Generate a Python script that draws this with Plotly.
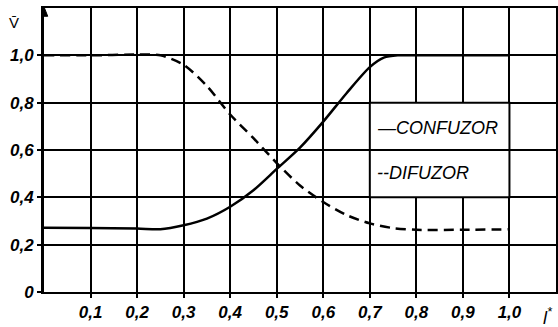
import plotly.graph_objects as go

# ---- data ----
x_confuzor = [0.0, 0.1, 0.2, 0.25, 0.3, 0.35, 0.4, 0.45, 0.5, 0.55, 0.6, 0.65, 0.7, 0.73, 0.76, 0.8, 0.9, 1.0]
v_confuzor = [0.272, 0.270, 0.268, 0.265, 0.282, 0.31, 0.36, 0.43, 0.52, 0.61, 0.72, 0.84, 0.95, 0.99, 1.0, 1.0, 1.0, 1.0]

x_difuzor = [0.0, 0.1, 0.2, 0.25, 0.3, 0.35, 0.4, 0.45, 0.5, 0.55, 0.6, 0.65, 0.7, 0.75, 0.8, 0.9, 1.0]
v_difuzor = [1.0, 1.0, 1.003, 1.0, 0.96, 0.87, 0.75, 0.65, 0.545, 0.45, 0.38, 0.325, 0.29, 0.27, 0.263, 0.263, 0.265]

x_tick_vals = [0.1, 0.2, 0.3, 0.4, 0.5, 0.6, 0.7, 0.8, 0.9, 1.0]
x_tick_text = ["0,1", "0,2", "0,3", "0,4", "0,5", "0,6", "0,7", "0,8", "0,9", "1,0"]
y_tick_vals = [0.0, 0.2, 0.4, 0.6, 0.8, 1.0]
y_tick_text = ["0", "0,2", "0,4", "0,6", "0,8", "1,0"]

series_names = ["CONFUZOR", "DIFUZOR"]
legend_labels = ["\u2014CONFUZOR", "--DIFUZOR"]
x_title = "l<sup>*</sup>"
y_title = "V\u0304"

tick_font = dict(family="Liberation Sans", size=17, color="black", style="italic", weight="bold")

fig = go.Figure()
fig.add_trace(go.Scatter(
    x=x_confuzor, y=v_confuzor, mode="lines", name=series_names[0],
    line=dict(color="black", width=2.5, shape="spline", smoothing=0.8),
    showlegend=False, hoverinfo="skip"))
fig.add_trace(go.Scatter(
    x=x_difuzor, y=v_difuzor, mode="lines", name=series_names[1],
    line=dict(color="black", width=2.5, dash="10px,6px", shape="spline", smoothing=0.8),
    showlegend=False, hoverinfo="skip"))

axis_common = dict(
    showgrid=True, gridcolor="black", gridwidth=2,
    showline=True, linecolor="black", mirror=True,
    ticks="outside", ticklen=4, tickwidth=2, tickcolor="black",
    zeroline=False, tickfont=tick_font, tickmode="array", automargin=False,
)
fig.update_xaxes(range=[0, 1.1], tickvals=x_tick_vals, ticktext=x_tick_text,
                 linewidth=2, **axis_common)
fig.update_yaxes(range=[0, 1.2], tickvals=y_tick_vals, ticktext=y_tick_text,
                 linewidth=3, **axis_common)

# in the original the 1,0 grid line is absent where the dashed curve runs along it
fig.add_shape(type="line", xref="x", yref="y", x0=0.003, x1=0.28, y0=1.0, y1=1.0,
              line=dict(color="white", width=3), layer="below")

# legend box drawn as in the original (white box over grid)
fig.add_shape(type="rect", xref="x", yref="y", x0=0.7, x1=1.0, y0=0.4, y1=0.8,
              line=dict(color="black", width=2), fillcolor="white", layer="above")
fig.add_shape(type="line", xref="x", yref="y", x0=0.7, x1=1.0, y0=0.6, y1=0.6,
              line=dict(color="black", width=2), layer="above")

legend_font = dict(family="Liberation Sans", size=18, color="black", style="italic")
fig.add_annotation(x=0.712, y=0.693, xref="x", yref="y", text=legend_labels[0],
                   showarrow=False, xanchor="left", yanchor="middle", font=legend_font)
fig.add_annotation(x=0.712, y=0.503, xref="x", yref="y", text=legend_labels[1],
                   showarrow=False, xanchor="left", yanchor="middle", font=legend_font)

# axis titles
fig.add_annotation(x=1.082, y=-0.085, xref="x", yref="paper", text=x_title,
                   showarrow=False, xanchor="center", yanchor="middle",
                   font=dict(family="Liberation Sans", size=18, color="black", style="italic"))
fig.add_annotation(x=-0.059, y=1.14, xref="paper", yref="y", text=y_title,
                   showarrow=False, xanchor="center", yanchor="middle",
                   font=dict(family="Liberation Sans", size=15, color="black"))

# arrow head at top of the y axis
fig.add_shape(type="path", xref="x", yref="y",
              path="M 0,1.205 L -0.008,1.165 L 0.008,1.165 Z",
              fillcolor="black", line=dict(color="black", width=1), layer="above")

fig.update_layout(
    width=558, height=327,
    margin=dict(l=44, r=2, t=8, b=35),
    paper_bgcolor="white", plot_bgcolor="white",
    showlegend=False,
)

fig.write_html("out.html", config={"displayModeBar": False, "staticPlot": True},
               post_script="document.body.style.margin='0';document.body.style.overflow='hidden';")
